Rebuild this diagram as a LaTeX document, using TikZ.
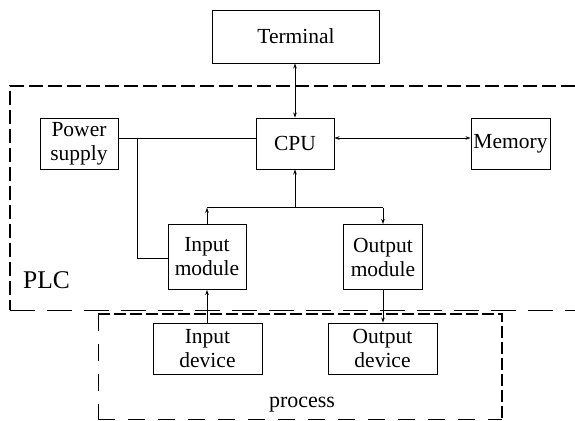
\documentclass[tikz,border=0pt]{standalone}
\usepackage{fontspec}
\setmainfont{Liberation Serif}
\usetikzlibrary{arrows.meta}
\begin{document}
\begin{tikzpicture}[x=1pt,y=-1pt,
  box/.style={draw,line width=0.9pt,inner sep=0pt,align=center,font=\fontsize{21.5}{24}\selectfont},
  conn/.style={line width=0.9pt},
  arr/.style={conn,-{Stealth[length=5pt,width=3.5pt]}},
  darr/.style={conn,{Stealth[length=5pt,width=3.5pt]}-{Stealth[length=5pt,width=3.5pt]}},
  lbl/.style={inner sep=0pt}]
\useasboundingbox (0,0) rectangle (575,420);
% PLC boundary
\draw[line width=1.4pt,dash pattern=on 14pt off 5pt] (575,86) -- (10,86) -- (10,310);
\draw[line width=1pt,dash pattern=on 25pt off 12pt] (10,310) -- (575,310);
% process boundary
\draw[line width=1.4pt,dash pattern=on 12pt off 4pt] (98,314) -- (502,314) -- (502,420);
\draw[line width=1pt,dash pattern=on 17pt off 13pt] (98,314) -- (98,420);
\draw[line width=1pt,dash pattern=on 17pt off 13pt] (98,419) -- (502,419);
% nodes
\node[box,minimum width=167pt,minimum height=53pt] (term) at (296,36.5) {Terminal};
\node[box,minimum width=78pt,minimum height=51pt] (pow) at (79,143.5) {Power\\supply};
\node[box,minimum width=78pt,minimum height=51pt] (cpu) at (295,143.5) {CPU};
\node[box,minimum width=79pt,minimum height=51pt] (mem) at (510.5,143.5) {Memory};
\node[box,minimum width=78pt,minimum height=65pt] (inm) at (207,257) {Input\\module};
\node[box,minimum width=79pt,minimum height=65pt] (outm) at (383,257) {Output\\module};
\node[box,minimum width=109pt,minimum height=51pt] (ind) at (207.5,348.5) {Input\\device};
\node[box,minimum width=109pt,minimum height=51pt] (outd) at (382.5,348.5) {Output\\device};
\node[lbl,font=\fontsize{25.5}{28}\selectfont] (plc) at (46.5,280) {PLC};
\node[lbl,font=\fontsize{22}{24}\selectfont] (proc) at (302,405) {process};
% coordinates
\coordinate (pj) at (137.5,138);
\coordinate (pjb) at (137.5,258);
\coordinate (bus) at (295,207.7);
\coordinate (busl) at (207,207.7);
\coordinate (busr) at (383,207.7);
% connectors
\draw[darr] (term.south -| cpu) -- (cpu.north);
\draw[darr] (cpu.east |- pj) -- (mem.west |- pj);
\draw[conn] (pow.east |- pj) -- (cpu.west |- pj);
\draw[conn] (pj) -- (pjb) -- (inm.west |- pjb);
\draw[arr] (bus) -- (cpu.south);
\draw[conn] (busl) -- (busr);
\draw[arr] (inm.north) -- (busl);
\draw[arr] (busr) -- (outm.north);
\draw[arr] (ind.north -| inm) -- (inm.south);
\draw[arr] (outm.south) -- (outd.north -| outm);
\end{tikzpicture}
\end{document}
